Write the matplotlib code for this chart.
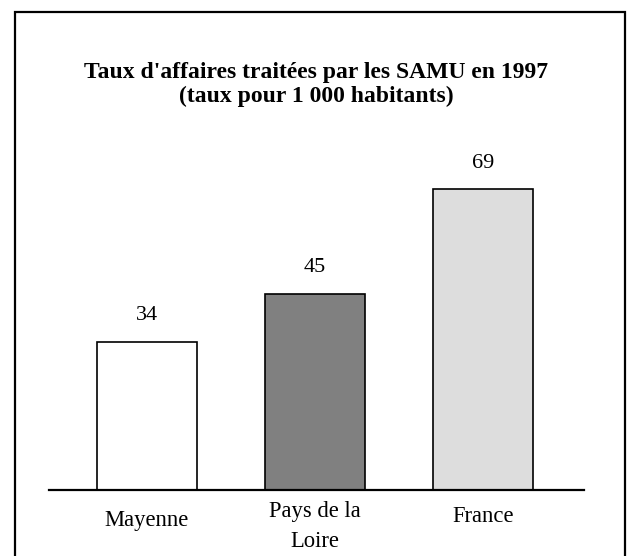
import matplotlib
matplotlib.use("Agg")
import matplotlib.pyplot as plt
from matplotlib.patches import Rectangle

categories = ["Mayenne", "Pays de la\nLoire", "France"]
values = [34, 45, 69]
colors = ["#ffffff", "#808080", "#dddddd"]
title = "Taux d'affaires traitées par les SAMU en 1997\n(taux pour 1 000 habitants)"

plt.rcParams['font.family'] = ['Liberation Serif', 'DejaVu Serif']

W, H = 630, 556
PT = 0.72  # points per pixel at dpi 100
fig = plt.figure(figsize=(W / 100, H / 100), dpi=100)
fig.patch.set_facecolor("white")

base_y = 489.5
top_y = 120
ax = fig.add_axes([49 / W, (H - base_y) / H, (584 - 49) / W, (base_y - top_y) / H])
x = list(range(len(categories)))
ax.bar(x, values, width=0.595, color=colors, edgecolor="black", linewidth=1.2, zorder=2)
ax.set_xlim(-0.583, 2.601)
ax.set_ylim(0, (base_y - top_y) / 4.35)

for s in ["top", "right", "left"]:
    ax.spines[s].set_visible(False)
ax.spines["bottom"].set_linewidth(1.6)
ax.spines["bottom"].set_zorder(3)
ax.set_yticks([])
ax.set_xticks([])

# value labels
for xi, v in zip(x, values):
    ax.annotate(str(v), xy=(xi, v), xytext=(0, 21.7 * PT), textcoords="offset points",
                ha="center", va="baseline", fontsize=16)

# category labels (baseline offsets below axis line, in px)
first_baseline_px = [36.5, 27.8, 32.8]
line_gap_px = 30
for xi, lab, off in zip(x, categories, first_baseline_px):
    for j, line in enumerate(lab.split("\n")):
        ax.annotate(line, xy=(xi, 0), xytext=(0, -(off + j * line_gap_px) * PT),
                    textcoords="offset points", ha="center", va="baseline", fontsize=16.3)

# title
title_baselines_px = [78.3, 101.7]
for line, by in zip(title.split("\n"), title_baselines_px):
    fig.text(316 / W, 1 - by / H, line, ha="center", va="baseline", fontsize=17,
             fontweight="bold")

fig.add_artist(Rectangle((14.5 / W, -0.05), (625 - 14.5) / W, (1 - 12 / H) + 0.05,
                         transform=fig.transFigure, fill=False, edgecolor="black", linewidth=1.6))

fig.savefig("out.png", dpi=100, facecolor="white")
